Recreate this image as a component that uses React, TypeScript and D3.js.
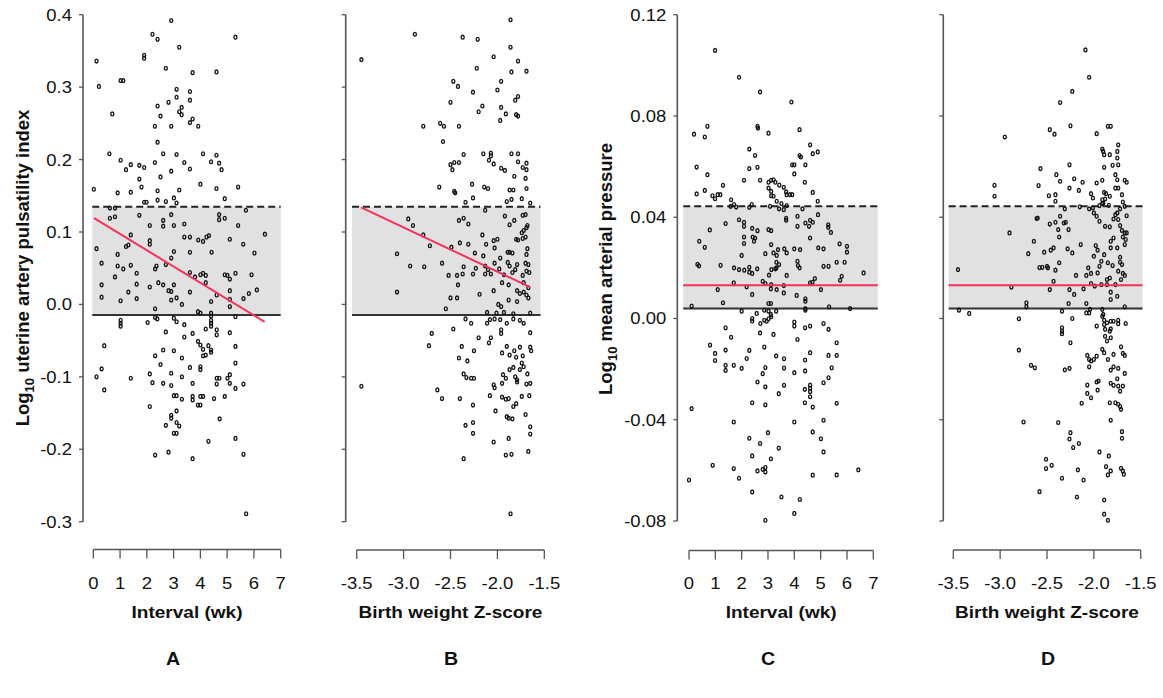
import * as d3 from "d3";

const FONT = "'Liberation Sans', Arial, Helvetica, sans-serif";

// axis ticks
const piTicks = [-0.3, -0.2, -0.1, 0, 0.1, 0.2, 0.3, 0.4];
const mapTicks = [-0.08, -0.04, 0, 0.04, 0.08, 0.12];
const intervalTicks = [0, 1, 2, 3, 4, 5, 6, 7];
const zTicks = [-3.5, -3, -2.5, -2, -1.5];

// reference range: [lower (solid), upper (dashed)]
const piLimits = [-0.0147, 0.1347];
const mapLimits = [0.0039, 0.0443];

// x extent of the shaded reference band
const bandA = [-0.04, 7.0];
const bandB = [-3.55, -1.54];
const bandC = [-0.22, 7.17];
const bandD = [-3.55, -1.48];

// fitted lines
const fitA: [number, number][] = [[0.03, 0.119], [6.4, -0.024]];
const fitB: [number, number][] = [[-3.454, 0.134], [-1.652, 0.024]];
const fitC: [number, number][] = [[-0.22, 0.0131], [7.17, 0.0131]];
const fitD: [number, number][] = [[-3.55, 0.0131], [-1.48, 0.0131]];

// A: interval (wk) vs log10 uterine artery PI
const ptsA: [number, number][] = [
  [0.02,0.159],[0.12,0.336],[0.21,0.301],[0.12,0.077],[0.31,0.057],[0.60,0.208],[0.71,0.263],[0.81,0.038],[0.62,0.133],[0.81,0.133],
  [0.62,0.119],[0.81,0.121],[0.91,0.154],[0.91,0.069],[0.91,0.053],[1.02,0.199],[1.02,0.309],[1.12,0.309],[1.12,0.049],[1.22,0.186],
  [1.22,0.080],[1.31,0.082],[1.40,0.155],[1.40,0.193],[1.40,0.096],[1.40,0.054],[1.62,0.043],[1.72,0.192],[1.72,0.173],[1.72,0.123],
  [1.80,0.162],[1.90,0.189],[1.90,0.340],[1.90,0.344],[1.90,0.141],[1.99,0.141],[2.11,0.109],[2.11,0.083],[2.11,0.088],[2.21,0.373],
  [2.40,0.366],[2.30,0.196],[2.30,0.246],[2.40,0.274],[2.40,0.224],[2.40,0.157],[2.40,0.144],[2.51,0.260],[2.51,0.176],[2.61,0.208],
  [2.61,0.116],[2.61,0.108],[2.71,0.326],[2.71,0.142],[2.31,0.049],[2.36,0.053],[2.71,0.055],[2.81,0.279],[2.91,0.392],[2.91,0.246],
  [2.91,0.184],[2.91,0.124],[2.91,0.064],[3.01,0.109],[3.01,0.073],[3.11,0.297],[3.11,0.286],[3.11,0.207],[3.01,0.147],[3.11,0.140],
  [3.21,0.355],[3.21,0.266],[3.30,0.272],[3.30,0.262],[3.21,0.158],[3.40,0.196],[3.40,0.111],[3.40,0.093],[3.61,0.294],[3.61,0.282],
  [3.61,0.251],[3.71,0.256],[3.61,0.187],[3.71,0.320],[3.61,0.093],[3.61,0.072],[3.92,0.246],[4.00,0.166],[4.10,0.208],[3.92,0.089],
  [4.10,0.087],[4.23,0.093],[4.32,0.095],[4.42,0.072],[4.40,0.197],[4.60,0.321],[4.60,0.206],[4.60,0.160],[4.70,0.195],[4.79,0.186],
  [4.70,0.124],[4.70,0.117],[4.91,0.146],[4.91,0.119],[5.10,0.090],[5.31,0.369],[5.41,0.162],[5.41,0.109],[5.70,0.130],[5.60,0.083],
  [6.02,0.071],[6.41,0.097],
  [0.31,0.027],[0.31,0.010],[1.02,0.005],[1.31,0.017],[1.62,0.028],[1.62,0.008],[2.11,0.024],[2.43,0.030],[2.61,0.027],[2.31,-0.006],
  [2.31,-0.018],[2.39,-0.020],[2.03,-0.025],[0.12,-0.100],[0.31,-0.089],[0.41,-0.057],[0.41,-0.118],[1.02,-0.022],[1.02,-0.026],[1.02,-0.030],
  [1.40,-0.102],[2.11,-0.096],[2.21,-0.108],[2.11,-0.141],[2.31,-0.071],[2.31,-0.208],[2.51,-0.083],[2.61,-0.063],[2.61,-0.109],[2.71,-0.038],
  [2.71,-0.167],[2.81,-0.204],[2.91,-0.095],[2.91,-0.112],[2.91,-0.153],[2.91,-0.157],[3.01,-0.064],[3.01,-0.126],[3.11,-0.126],[3.11,-0.147],
  [3.01,-0.178],[3.11,-0.178],[3.11,-0.163],[3.21,-0.168],[2.81,0.019],[2.91,0.018],[2.91,0.006],[3.11,0.009],[3.01,0.027],[3.31,0.000],
  [3.01,-0.019],[3.11,-0.024],[3.40,-0.028],[3.40,-0.045],[3.31,-0.074],[3.31,-0.100],[3.31,-0.131],[3.71,-0.040],[3.61,-0.087],[3.71,-0.109],
  [3.71,-0.127],[3.71,-0.132],[3.71,-0.213],[3.91,-0.010],[4.00,-0.012],[3.91,-0.051],[4.00,-0.056],[4.10,-0.062],[4.10,-0.071],[4.20,-0.070],
  [4.00,-0.086],[4.00,-0.090],[3.91,-0.139],[4.00,-0.139],[4.00,-0.127],[4.10,-0.127],[4.30,-0.189],[4.20,-0.034],[4.30,-0.057],[4.40,-0.063],
  [4.40,-0.066],[4.40,-0.012],[4.40,-0.016],[4.40,-0.022],[4.40,-0.026],[4.40,-0.030],[4.40,0.004],[4.51,-0.130],[4.61,-0.035],[4.61,-0.042],
  [4.61,-0.102],[4.71,-0.102],[4.61,-0.110],[4.72,-0.158],[4.91,-0.127],[5.01,-0.102],[5.10,-0.039],[5.10,-0.097],[5.10,-0.109],[5.10,-0.003],
  [5.10,0.007],[5.31,-0.017],[5.31,-0.058],[5.31,-0.081],[5.31,-0.116],[5.31,-0.185],[5.61,-0.207],[5.61,-0.110],[5.71,-0.289],[5.61,0.008],
  [5.81,0.015],[6.11,0.020],[5.91,0.041],[3.61,0.017],[3.61,0.044],[3.80,0.038],[4.00,0.041],[4.10,0.043],[4.20,0.040],[4.20,0.030],
  [4.61,0.013],[5.10,0.019],[5.01,0.040],[4.91,0.041],[5.31,0.043],[5.10,0.035],
];

// B: birth weight Z-score vs log10 uterine artery PI
const ptsB: [number, number][] = [
  [-3.45,0.338],[-2.88,0.373],[-2.37,0.369],[-2.21,0.366],[-1.86,0.393],[-1.86,0.355],[-2.04,0.342],[-1.78,0.336],[-1.69,0.322],[-1.85,0.321],
  [-2.22,0.326],[-2.47,0.308],[-2.42,0.301],[-2.26,0.293],[-1.96,0.308],[-2.00,0.296],[-1.81,0.282],[-1.78,0.287],[-2.50,0.279],[-2.16,0.274],
  [-2.20,0.266],[-1.96,0.272],[-1.91,0.263],[-1.80,0.262],[-1.78,0.260],[-1.97,0.254],[-2.79,0.246],[-2.61,0.250],[-2.57,0.246],[-2.41,0.246],
  [-2.58,0.225],[-2.36,0.207],[-2.15,0.208],[-2.07,0.209],[-2.07,0.205],[-1.85,0.208],[-1.78,0.208],[-2.50,0.193],[-2.46,0.196],[-2.41,0.196],
  [-2.48,0.186],[-2.09,0.199],[-2.04,0.194],[-1.96,0.188],[-1.92,0.185],[-1.78,0.197],[-1.73,0.189],[-1.69,0.195],[-1.82,0.177],[-1.69,0.186],
  [-1.70,0.174],[-2.62,0.162],[-2.46,0.156],[-2.45,0.154],[-2.27,0.166],[-2.14,0.162],[-2.10,0.160],[-1.87,0.158],[-1.83,0.158],[-1.69,0.160],
  [-2.26,0.147],[-2.34,0.141],[-1.90,0.142],[-1.85,0.145],[-1.74,0.146],[-1.65,0.140],[-2.13,0.130],[-2.95,0.118],[-2.90,0.109],[-2.41,0.116],
  [-2.36,0.119],[-2.31,0.111],[-1.92,0.122],[-1.82,0.116],[-1.73,0.123],[-1.70,0.124],[-1.68,0.109],[-1.69,0.106],[-1.87,0.110],[-2.79,0.096],
  [-2.16,0.096],[-2.72,0.081],[-2.49,0.079],[-2.40,0.085],[-2.31,0.083],[-2.04,0.088],[-2.00,0.090],[-2.12,0.083],[-1.80,0.090],[-1.78,0.089],
  [-1.73,0.091],[-1.70,0.093],[-1.74,0.099],[-1.72,0.102],[-3.07,0.070],[-2.15,0.067],[-2.24,0.071],[-2.03,0.078],[-1.97,0.064],[-1.87,0.072],
  [-1.89,0.072],[-1.84,0.071],[-1.68,0.077],[-1.69,0.069],[-2.93,0.053],[-2.78,0.052],[-2.59,0.057],[-2.36,0.052],[-2.23,0.050],[-2.13,0.053],
  [-2.03,0.057],[-1.89,0.058],[-1.87,0.053],[-1.79,0.055],[-1.70,0.057],[-1.67,0.055],[-1.69,0.046],[-2.52,0.040],[-2.43,0.040],[-2.37,0.042],
  [-2.26,0.042],[-2.13,0.042],[-2.10,0.048],[-2.07,0.042],[-1.98,0.049],[-1.93,0.041],[-1.84,0.044],[-1.81,0.048],[-1.73,0.040],[-1.66,0.044],
  [-3.07,0.017],[-2.42,0.027],[-2.50,0.009],[-2.43,0.009],[-2.55,-0.006],[-2.19,0.014],[-2.04,0.019],[-1.95,0.030],[-1.88,0.027],[-1.72,0.030],
  [-1.67,0.009],[-1.69,0.013],[-1.67,0.023],[-1.79,0.019],[-1.76,0.015],[-1.72,0.017],[-1.88,0.006],[-1.79,0.004],[-1.99,0.000],[-1.96,-0.003],
  [-2.11,-0.011],[-2.01,-0.012],[-1.93,-0.011],[-1.83,-0.013],[-1.65,-0.012],[-2.34,-0.020],[-2.28,-0.026],[-2.11,-0.026],[-2.08,-0.021],[-2.03,-0.020],
  [-1.97,-0.021],[-1.96,-0.035],[-1.96,-0.040],[-1.90,-0.026],[-1.83,-0.020],[-1.76,-0.022],[-1.72,-0.026],[-1.65,-0.039],[-2.47,-0.034],[-2.70,-0.040],
  [-2.73,-0.057],[-2.20,-0.046],[-2.07,-0.046],[-2.09,-0.053],[-2.38,-0.058],[-2.25,-0.064],[-2.41,-0.074],[-2.32,-0.078],[-1.95,-0.067],[-1.87,-0.070],
  [-1.82,-0.064],[-1.76,-0.059],[-1.73,-0.071],[-1.65,-0.059],[-1.64,-0.064],[-1.80,-0.073],[-1.90,-0.058],[-1.74,-0.081],[-1.72,-0.086],[-1.76,-0.090],
  [-1.83,-0.087],[-1.87,-0.090],[-2.36,-0.096],[-2.33,-0.101],[-2.28,-0.102],[-2.25,-0.102],[-2.04,-0.111],[-2.03,-0.115],[-1.94,-0.097],[-1.91,-0.102],
  [-1.95,-0.109],[-1.79,-0.104],[-1.68,-0.096],[-1.69,-0.110],[-1.65,-0.109],[-1.81,-0.100],[-1.79,-0.107],[-3.45,-0.113],[-2.64,-0.118],[-2.59,-0.130],
  [-2.40,-0.130],[-2.08,-0.126],[-1.95,-0.128],[-1.91,-0.131],[-1.88,-0.130],[-1.74,-0.127],[-1.66,-0.126],[-2.26,-0.139],[-2.02,-0.147],[-1.83,-0.141],
  [-1.80,-0.137],[-1.90,-0.155],[-1.88,-0.157],[-1.84,-0.158],[-1.70,-0.152],[-2.34,-0.167],[-2.26,-0.163],[-1.65,-0.169],[-1.65,-0.179],[-2.26,-0.178],
  [-2.04,-0.190],[-1.88,-0.185],[-1.67,-0.203],[-1.91,-0.208],[-1.85,-0.207],[-2.36,-0.213],[-1.86,-0.289],
];

// C: interval (wk) vs log10 mean arterial pressure
const ptsC: [number, number][] = [
  [0.99,0.1059],[1.90,0.0953],[2.70,0.0895],[3.89,0.0855],[0.19,0.0728],[0.60,0.0717],[0.70,0.0759],[2.60,0.0759],[2.62,0.0752],[3.02,0.0732],
  [4.20,0.0746],[4.60,0.0686],[4.70,0.0651],[4.89,0.0658],[2.29,0.0669],[2.51,0.0644],[0.29,0.0598],[2.29,0.0592],[2.60,0.0597],[3.92,0.0607],
  [4.00,0.0607],[4.20,0.0644],[4.25,0.0638],[4.42,0.0607],[4.00,0.0571],[0.70,0.0568],[4.40,0.0538],[2.70,0.0546],[2.09,0.0546],[0.29,0.0492],
  [0.60,0.0506],[1.29,0.0526],[1.60,0.0469],[3.02,0.0538],[3.12,0.0546],[3.21,0.0548],[3.28,0.0538],[3.43,0.0527],[3.02,0.0515],[3.12,0.0502],
  [3.60,0.0518],[3.69,0.0500],[3.71,0.0489],[3.84,0.0489],[3.92,0.0489],[0.89,0.0485],[0.99,0.0473],[1.09,0.0489],[1.19,0.0489],[1.79,0.0440],
  [1.71,0.0450],[2.29,0.0439],[2.38,0.0450],[3.12,0.0485],[3.21,0.0483],[3.33,0.0463],[3.51,0.0454],[3.60,0.0430],[3.71,0.0446],[3.42,0.0433],
  [4.70,0.0498],[4.89,0.0463],[4.90,0.0410],[3.08,0.0443],[1.58,0.0443],[0.79,0.0350],[1.39,0.0375],[1.90,0.0390],[2.09,0.0380],[2.09,0.0364],
  [2.40,0.0356],[2.60,0.0347],[2.09,0.0322],[2.09,0.0296],[2.51,0.0318],[2.47,0.0305],[2.42,0.0322],[3.02,0.0351],[3.12,0.0347],[3.69,0.0396],
  [3.69,0.0388],[4.12,0.0404],[4.31,0.0433],[4.42,0.0377],[4.60,0.0388],[4.70,0.0380],[4.56,0.0364],[4.12,0.0364],[4.60,0.0318],[5.29,0.0370],
  [5.29,0.0360],[5.39,0.0340],[0.39,0.0305],[0.60,0.0281],[2.00,0.0249],[2.90,0.0256],[3.12,0.0292],[3.21,0.0259],[3.33,0.0249],[3.38,0.0272],
  [3.62,0.0275],[3.71,0.0259],[4.00,0.0275],[4.22,0.0272],[4.12,0.0226],[4.91,0.0279],[5.11,0.0275],[5.72,0.0295],[6.00,0.0285],[6.00,0.0262],
  [0.32,0.0214],[0.38,0.0208],[1.20,0.0210],[1.71,0.0200],[1.90,0.0193],[2.10,0.0191],[2.29,0.0202],[2.29,0.0183],[2.40,0.0178],[2.59,0.0196],
  [3.32,0.0222],[3.32,0.0200],[3.13,0.0193],[3.42,0.0213],[4.20,0.0200],[4.14,0.0209],[5.11,0.0206],[5.30,0.0206],[5.61,0.0222],[5.91,0.0222],
  [3.71,0.0170],[3.04,0.0171],[3.28,0.0196],[4.78,0.0158],[4.60,0.0141],[4.69,0.0143],[5.74,0.0151],[5.80,0.0167],[6.63,0.0180],[2.80,0.0147],
  [2.90,0.0138],[3.12,0.0134],[1.70,0.0141],[1.09,0.0114],[2.19,0.0125],[2.40,0.0095],[3.11,0.0117],[3.33,0.0114],[3.60,0.0130],[3.60,0.0101],
  [4.09,0.0091],[4.42,0.0078],[5.01,0.0114],
  [0.10,0.0049],[1.29,0.0062],[2.00,0.0029],[2.40,0.0000],[2.40,-0.0010],[2.57,0.0020],[2.71,-0.0020],[2.86,-0.0007],[2.86,0.0033],[3.02,0.0059],
  [3.11,0.0059],[3.02,0.0029],[3.02,-0.0001],[3.12,0.0007],[2.95,-0.0011],[3.11,0.0016],[3.31,0.0029],[2.70,-0.0057],[3.21,-0.0063],[2.86,-0.0113],
  [1.39,-0.0037],[1.60,-0.0074],[4.00,-0.0014],[4.00,-0.0030],[4.42,0.0039],[4.42,0.0033],[4.42,0.0068],[4.41,-0.0037],[4.60,-0.0030],[4.12,-0.0083],
  [5.11,-0.0020],[5.30,-0.0043],[5.32,0.0046],[6.12,0.0039],[0.80,-0.0105],[0.99,-0.0138],[0.99,-0.0166],[1.39,-0.0125],[1.39,-0.0185],[1.39,-0.0205],
  [1.70,-0.0185],[2.00,-0.0197],[2.19,-0.0158],[2.29,-0.0126],[2.80,-0.0218],[2.60,-0.0251],[2.90,-0.0194],[2.90,-0.0270],[3.31,-0.0148],[3.61,-0.0159],
  [3.61,-0.0196],[3.61,-0.0264],[3.41,-0.0297],[4.00,-0.0214],[4.41,-0.0164],[4.41,-0.0207],[4.60,-0.0135],[4.40,-0.0280],[4.60,-0.0263],[4.60,-0.0276],
  [4.60,-0.0289],[4.60,-0.0309],[5.30,-0.0146],[5.42,-0.0195],[5.30,-0.0234],[5.11,-0.0254],[5.61,-0.0096],[5.61,-0.0146],[2.40,-0.0333],[2.90,-0.0341],
  [4.40,-0.0333],[4.70,-0.0350],[5.61,-0.0335],[0.10,-0.0356],[1.70,-0.0409],[4.00,-0.0409],[5.11,-0.0402],[2.29,-0.0473],[3.00,-0.0451],[2.70,-0.0494],
  [3.41,-0.0512],[4.70,-0.0448],[5.01,-0.0475],[5.11,-0.0527],[2.40,-0.0543],[3.11,-0.0554],[0.90,-0.0580],[1.70,-0.0593],[1.90,-0.0631],[2.60,-0.0602],
  [2.80,-0.0596],[2.90,-0.0589],[2.90,-0.0606],[4.70,-0.0619],[5.61,-0.0618],[6.43,-0.0598],[0.00,-0.0638],[2.40,-0.0685],[3.51,-0.0705],[4.21,-0.0715],
  [4.00,-0.0770],[2.90,-0.0797],
];

// D: birth weight Z-score vs log10 mean arterial pressure
const ptsD: [number, number][] = [
  [-2.09,0.1061],[-2.05,0.0953],[-2.23,0.0897],[-2.36,0.0853],[-2.25,0.0761],[-2.47,0.0746],[-2.42,0.0728],[-1.85,0.0759],[-1.82,0.0759],[-1.97,0.0730],
  [-2.95,0.0717],[-1.91,0.0669],[-1.90,0.0660],[-1.89,0.0647],[-1.83,0.0647],[-1.74,0.0686],[-1.75,0.0660],[-1.75,0.0634],[-1.74,0.0607],[-2.26,0.0607],
  [-1.89,0.0597],[-1.80,0.0605],[-2.57,0.0592],[-1.77,0.0568],[-1.75,0.0548],[-1.77,0.0515],[-1.67,0.0546],[-1.65,0.0538],[-2.40,0.0568],[-2.21,0.0552],
  [-2.36,0.0542],[-2.12,0.0538],[-1.97,0.0535],[-1.91,0.0546],[-3.06,0.0526],[-2.59,0.0525],[-2.26,0.0515],[-2.16,0.0506],[-3.06,0.0483],[-2.48,0.0485],
  [-2.41,0.0489],[-2.41,0.0463],[-2.03,0.0493],[-2.01,0.0476],[-1.89,0.0498],[-1.87,0.0493],[-1.91,0.0469],[-1.88,0.0472],[-1.90,0.0456],[-1.83,0.0483],
  [-1.74,0.0515],[-1.70,0.0489],[-1.69,0.0460],[-2.31,0.0433],[-2.15,0.0441],[-2.05,0.0433],[-2.01,0.0437],[-1.94,0.0446],[-1.91,0.0454],[-1.84,0.0447],
  [-1.72,0.0433],[-1.67,0.0443],[-2.36,0.0404],[-2.32,0.0377],[-2.30,0.0380],[-2.27,0.0351],[-2.37,0.0322],[-2.41,0.0380],[-2.47,0.0373],[-2.38,0.0351],
  [-2.61,0.0395],[-2.60,0.0397],[-2.00,0.0417],[-1.97,0.0404],[-1.94,0.0384],[-1.88,0.0364],[-1.83,0.0362],[-1.79,0.0393],[-1.77,0.0410],[-1.74,0.0391],
  [-1.75,0.0417],[-1.65,0.0406],[-1.72,0.0367],[-1.70,0.0348],[-1.67,0.0338],[-1.65,0.0338],[-1.66,0.0312],[-1.67,0.0292],[-1.79,0.0318],[-1.82,0.0305],
  [-1.82,0.0279],[-1.75,0.0279],[-1.69,0.0322],[-2.90,0.0338],[-2.64,0.0305],[-2.70,0.0256],[-2.53,0.0262],[-2.46,0.0270],[-2.43,0.0279],[-2.28,0.0275],
  [-2.23,0.0259],[-2.14,0.0292],[-1.98,0.0288],[-1.96,0.0270],[-2.00,0.0246],[-1.92,0.0226],[-1.89,0.0252],[-1.85,0.0220],[-1.80,0.0209],[-1.72,0.0242],
  [-1.72,0.0222],[-1.70,0.0213],[-1.69,0.0178],[-1.67,0.0170],[-2.55,0.0202],[-2.50,0.0206],[-2.49,0.0200],[-2.41,0.0191],[-2.37,0.0220],[-2.58,0.0201],
  [-3.45,0.0193],[-2.19,0.0170],[-2.08,0.0170],[-2.06,0.0200],[-2.03,0.0178],[-1.96,0.0180],[-1.94,0.0206],[-1.86,0.0154],[-1.83,0.0160],[-1.74,0.0187],
  [-1.71,0.0154],[-2.43,0.0147],[-2.88,0.0124],[-2.47,0.0114],[-2.26,0.0114],[-2.21,0.0095],[-2.11,0.0117],[-2.03,0.0138],[-1.99,0.0128],[-1.92,0.0134],
  [-1.86,0.0134],[-1.82,0.0104],[-1.77,0.0134],[-1.75,0.0088],
  [-3.44,0.0033],[-3.33,0.0020],[-2.72,0.0062],[-2.72,0.0046],[-2.80,-0.0001],[-2.27,0.0059],[-2.34,0.0029],[-2.23,0.0000],[-2.08,0.0059],[-2.08,0.0022],
  [-2.04,0.0036],[-2.05,0.0022],[-1.91,0.0036],[-1.91,0.0009],[-1.89,-0.0007],[-1.89,-0.0024],[-1.86,-0.0017],[-1.82,-0.0011],[-1.82,-0.0041],[-1.79,-0.0011],
  [-1.74,-0.0007],[-1.74,-0.0021],[-1.66,-0.0020],[-1.67,0.0046],[-1.90,0.0016],[-1.97,-0.0030],[-1.82,0.0075],[-2.34,-0.0037],[-2.34,-0.0050],[-2.34,-0.0060],
  [-2.25,-0.0096],[-1.88,-0.0070],[-1.86,-0.0089],[-1.82,-0.0076],[-1.88,-0.0043],[-1.83,-0.0050],[-2.80,-0.0125],[-1.91,-0.0122],[-1.89,-0.0135],[-1.85,-0.0162],
  [-1.79,-0.0142],[-1.71,-0.0112],[-1.69,-0.0138],[-1.67,-0.0146],[-2.07,-0.0146],[-2.05,-0.0162],[-2.03,-0.0168],[-2.00,-0.0162],[-1.97,-0.0149],[-2.05,-0.0191],
  [-2.67,-0.0185],[-2.63,-0.0195],[-2.31,-0.0203],[-2.26,-0.0197],[-1.82,-0.0204],[-1.79,-0.0191],[-1.74,-0.0197],[-1.67,-0.0217],[-1.75,-0.0238],[-1.82,-0.0256],
  [-1.79,-0.0264],[-1.74,-0.0267],[-1.69,-0.0267],[-1.72,-0.0287],[-2.07,-0.0263],[-1.97,-0.0251],[-1.95,-0.0247],[-1.96,-0.0283],[-2.07,-0.0296],[-2.03,-0.0313],
  [-2.13,-0.0335],[-1.83,-0.0333],[-1.77,-0.0333],[-1.74,-0.0339],[-1.72,-0.0348],[-1.71,-0.0359],[-2.75,-0.0409],[-2.38,-0.0411],[-1.82,-0.0402],[-2.25,-0.0451],
  [-2.26,-0.0476],[-2.22,-0.0510],[-2.16,-0.0494],[-1.70,-0.0447],[-1.70,-0.0473],[-1.94,-0.0527],[-1.84,-0.0543],[-2.51,-0.0556],[-2.51,-0.0593],[-2.45,-0.0580],
  [-2.34,-0.0631],[-2.17,-0.0598],[-2.11,-0.0638],[-1.87,-0.0585],[-1.82,-0.0602],[-1.85,-0.0618],[-1.71,-0.0592],[-1.69,-0.0602],[-1.68,-0.0615],[-2.58,-0.0684],
  [-2.18,-0.0705],[-1.89,-0.0717],[-1.89,-0.0773],[-1.85,-0.0797],
];

const fmt1 = (d: number) => d.toFixed(1);
const fmt2 = (d: number) => d.toFixed(2);
const fmt0 = (d: number) => String(d);

const SX = 1.12; // text in the figure is rendered a little wide

function Label({ x, y, size, bold, anchor = "middle", children }: any) {
  return (
    <text
      transform={`translate(${x},${y}) scale(${SX},1)`}
      textAnchor={anchor}
      fontSize={size}
      fontWeight={bold ? "bold" : "normal"}
      fontFamily={FONT}
      fill="#111"
    >
      {children}
    </text>
  );
}

function Panel(props: any) {
  const {
    xDom, xRange, yDom, yRange, axisX, axisY, pts, band, limits, fit,
    yTicks, yFmt, xTicks, xFmt, xTitle, letter, letterX,
  } = props;
  const x = d3.scaleLinear().domain(xDom).range(xRange);
  const y = d3.scaleLinear().domain(yDom).range(yRange);
  const line = d3.line<[number, number]>().x(d => x(d[0])).y(d => y(d[1]));
  const xMid = (xRange[0] + xRange[1]) / 2;

  return (
    <g>
      <rect
        x={x(band[0])}
        y={y(limits[1])}
        width={x(band[1]) - x(band[0])}
        height={y(limits[0]) - y(limits[1])}
        fill="#e1e1e1"
      />
      <line x1={x(band[0])} x2={x(band[1])} y1={y(limits[1])} y2={y(limits[1])}
        stroke="#222" strokeWidth={2} strokeDasharray="7,4" />
      <line x1={x(band[0])} x2={x(band[1])} y1={y(limits[0])} y2={y(limits[0])}
        stroke="#333" strokeWidth={2} />
      <g fill="none" stroke="#111" strokeWidth={1.35}>
        {pts.map((d: [number, number], i: number) => (
          <ellipse key={i} cx={x(d[0])} cy={y(d[1])} rx={1.5} ry={1.9} />
        ))}
      </g>
      <path d={line(fit) || ""} stroke="#f2335c" strokeWidth={2} fill="none" />

      {/* y axis */}
      <line x1={axisX} x2={axisX} y1={y(yTicks[0])} y2={y(yTicks[yTicks.length - 1])}
        stroke="#555" strokeWidth={1.6} />
      {yTicks.map((t: number) => (
        <g key={t}>
          <line x1={axisX - 4} x2={axisX} y1={y(t)} y2={y(t)} stroke="#555" strokeWidth={1.3} />
          {yFmt && (
            <Label x={axisX - 11} y={y(t)} size={16.5} anchor="end">
              <tspan dy="0.36em">{yFmt(t)}</tspan>
            </Label>
          )}
        </g>
      ))}

      {/* x axis */}
      <line x1={x(xTicks[0])} x2={x(xTicks[xTicks.length - 1])} y1={axisY} y2={axisY}
        stroke="#555" strokeWidth={1.6} />
      {xTicks.map((t: number) => (
        <g key={t}>
          <line x1={x(t)} x2={x(t)} y1={axisY} y2={axisY + 9} stroke="#555" strokeWidth={1.3} />
          <Label x={x(t)} y={589} size={16.5}>{xFmt(t)}</Label>
        </g>
      ))}
      <Label x={xMid} y={618} size={17} bold>{xTitle}</Label>
      <Label x={letterX} y={665} size={17.5} bold>{letter}</Label>
    </g>
  );
}

function YTitle({ x, y, main }: { x: number; y: number; main: string }) {
  return (
    <text
      transform={`translate(${x},${y}) rotate(-90)`}
      textAnchor="middle"
      fontSize={18.5}
      fontWeight="bold"
      fontFamily={FONT}
      fill="#111"
    >
      Log<tspan fontSize={13} dy={5}>10</tspan>
      <tspan dy={-5}>{" " + main}</tspan>
    </text>
  );
}

export default function App() {
  const yPI = { yDom: [-0.3, 0.4], yRange: [521.7, 14.7] };
  const yMAP = { yDom: [-0.08, 0.12], yRange: [521, 14.7] };
  return (
    <svg
      width={1163}
      height={698}
      style={{ position: "absolute", left: 0, top: 0, background: "#fff" }}
    >
      <YTitle x={29} y={268} main="uterine artery pulsatility index" />
      <YTitle x={612} y={269} main="mean arterial pressure" />
      <Panel {...yPI} xDom={[0, 7]} xRange={[93.3, 280.7]} axisX={83} axisY={549.5}
        pts={ptsA} band={bandA} limits={piLimits} fit={fitA}
        yTicks={piTicks} yFmt={fmt1} xTicks={intervalTicks} xFmt={fmt0}
        xTitle="Interval (wk)" letter="A" letterX={173} />
      <Panel {...yPI} xDom={[-3.5, -1.5]} xRange={[356.7, 544.3]} axisX={345.7} axisY={550}
        pts={ptsB} band={bandB} limits={piLimits} fit={fitB}
        yTicks={piTicks} yFmt={null} xTicks={zTicks} xFmt={fmt1}
        xTitle="Birth weight Z-score" letter="B" letterX={451} />
      <Panel {...yMAP} xDom={[0, 7]} xRange={[689, 873.3]} axisX={677.3} axisY={550.5}
        pts={ptsC} band={bandC} limits={mapLimits} fit={fitC}
        yTicks={mapTicks} yFmt={fmt2} xTicks={intervalTicks} xFmt={fmt0}
        xTitle="Interval (wk)" letter="C" letterX={768} />
      <Panel {...yMAP} xDom={[-3.5, -1.5]} xRange={[953.3, 1140.7]} axisX={943.3} axisY={550}
        pts={ptsD} band={bandD} limits={mapLimits} fit={fitD}
        yTicks={mapTicks} yFmt={null} xTicks={zTicks} xFmt={fmt1}
        xTitle="Birth weight Z-score" letter="D" letterX={1048} />
    </svg>
  );
}
